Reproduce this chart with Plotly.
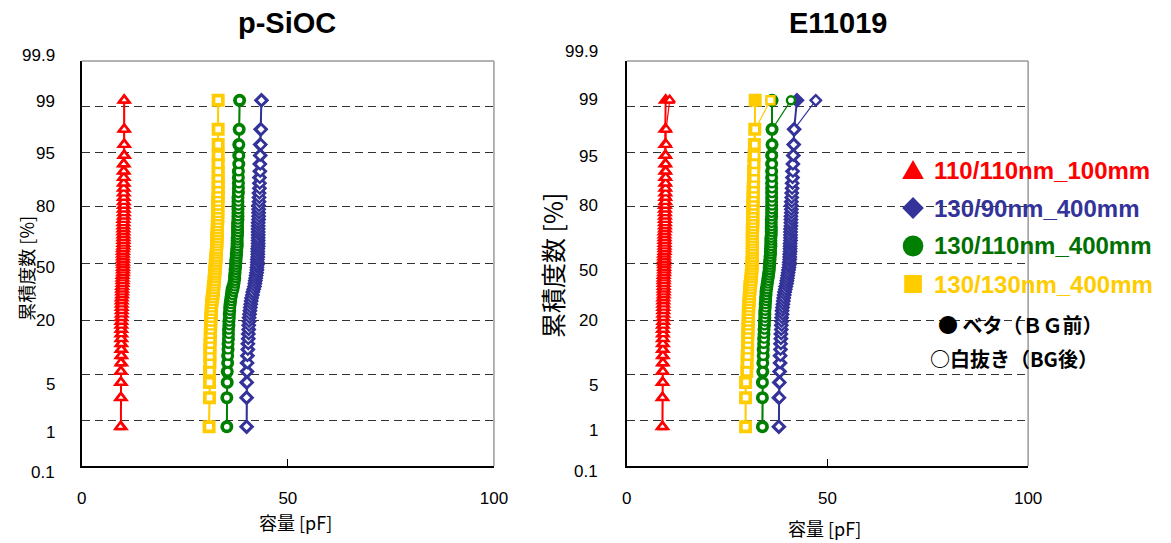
import statistics
import plotly.graph_objects as go

# ---------------- data (capacitance in pF, sorted per sample set) ----------------
L_red_A = [9.5, 9.5, 9.5, 9.5, 9.6, 9.6, 9.6, 9.6, 9.6, 9.6, 9.6, 9.6, 9.6, 9.6, 9.7, 9.7,
           9.7, 9.7, 9.7, 9.7, 9.8, 9.8, 9.8, 9.8, 9.9, 9.9, 9.9, 9.9, 10.0, 10.0, 10.0, 10.0,
           10.0, 10.0, 10.0, 10.0, 10.0, 10.0, 10.1, 10.1, 10.1, 10.1, 10.1, 10.1, 10.1, 10.1,
           10.1, 10.1, 10.2, 10.2, 10.2, 10.2, 10.2, 10.2, 10.2, 10.2, 10.2, 10.2, 10.2, 10.2, 10.3, 10.3, 10.3, 10.3]
L_red_B = [9.4, 9.5, 9.5, 9.5, 9.5, 9.6, 9.6, 9.6, 9.6, 9.6, 9.6, 9.6, 9.6, 9.7, 9.7, 9.7,
           9.7, 9.7, 9.7, 9.8, 9.8, 9.8, 9.8, 9.9, 9.9, 9.9, 9.9, 10.0, 10.0, 10.0, 10.0, 10.0,
           10.0, 10.0, 10.0, 10.0, 10.0, 10.1, 10.1, 10.1, 10.1, 10.1, 10.1, 10.1, 10.1, 10.1,
           10.1, 10.2, 10.2, 10.2, 10.2, 10.2, 10.2, 10.2, 10.2, 10.2, 10.2, 10.2, 10.2, 10.2, 10.3, 10.3, 10.3, 10.3]
L_yel_A = [30.9, 31.0, 31.0, 31.0, 31.1, 31.1, 31.1, 31.1, 31.2, 31.2, 31.2, 31.3, 31.3, 31.3, 31.4, 31.4,
           31.5, 31.5, 31.6, 31.7, 31.8, 31.9, 31.9, 32.0, 32.1, 32.1, 32.2, 32.2, 32.3, 32.3, 32.4, 32.4,
           32.5, 32.5, 32.6, 32.6, 32.7, 32.7, 32.7, 32.8, 32.8, 32.8, 32.8, 32.9, 32.9, 32.9, 32.9, 33.0,
           33.0, 33.0, 33.0, 33.0, 33.0, 33.1, 33.1, 33.1, 33.1, 33.1, 33.1, 33.1, 33.1, 33.1, 33.1, 33.1]
L_yel_B = [30.9, 31.0, 31.0, 31.1, 31.1, 31.1, 31.1, 31.2, 31.2, 31.2, 31.3, 31.3, 31.3, 31.4, 31.4, 31.5,
           31.5, 31.6, 31.7, 31.8, 31.9, 32.0, 32.1, 32.2, 32.2, 32.3, 32.4, 32.4, 32.5, 32.5, 32.6, 32.6,
           32.7, 32.7, 32.8, 32.8, 32.8, 32.9, 32.9, 32.9, 33.0, 33.0, 33.0, 33.0, 33.0, 33.0, 33.1, 33.1,
           33.1, 33.1, 33.1, 33.1, 33.1, 33.1, 33.1, 33.1, 33.1, 33.1, 33.1, 33.1, 33.1, 33.1, 33.1, 33.1]
L_grn_A = [35.2, 35.2, 35.3, 35.3, 35.4, 35.4, 35.5, 35.5, 35.6, 35.6, 35.6, 35.7, 35.7, 35.8, 35.8, 35.9,
           35.9, 36.0, 36.1, 36.2, 36.3, 36.4, 36.5, 36.7, 36.9, 37.0, 37.1, 37.1, 37.2, 37.2, 37.3, 37.3,
           37.4, 37.4, 37.5, 37.5, 37.6, 37.6, 37.7, 37.7, 37.7, 37.7, 37.8, 37.8, 37.8, 37.8, 37.8, 37.9,
           37.9, 37.9, 37.9, 37.9, 37.9, 37.9, 38.0, 38.0, 38.0, 38.0, 38.0, 38.1, 38.1, 38.1, 38.2, 38.3]
L_grn_B = [35.2, 35.2, 35.3, 35.4, 35.4, 35.5, 35.5, 35.6, 35.6, 35.7, 35.7, 35.8, 35.8, 35.9, 35.9, 36.0,
           36.1, 36.2, 36.3, 36.4, 36.6, 36.8, 37.0, 37.1, 37.2, 37.2, 37.3, 37.3, 37.4, 37.4, 37.5, 37.5,
           37.6, 37.6, 37.6, 37.7, 37.7, 37.7, 37.8, 37.8, 37.8, 37.8, 37.8, 37.9, 37.9, 37.9, 37.9, 37.9,
           37.9, 38.0, 38.0, 38.0, 38.0, 38.0, 38.0, 38.1, 38.1, 38.1, 38.1, 38.1, 38.2, 38.2, 38.2, 38.3]
L_blu_A = [40.0, 40.0, 40.0, 40.1, 40.1, 40.2, 40.3, 40.3, 40.4, 40.4, 40.5, 40.5, 40.6, 40.6, 40.7, 40.8,
           40.9, 41.0, 41.1, 41.2, 41.4, 41.5, 41.7, 41.9, 42.0, 42.1, 42.2, 42.3, 42.4, 42.5, 42.5, 42.6,
           42.6, 42.6, 42.7, 42.7, 42.7, 42.7, 42.8, 42.8, 42.8, 42.8, 42.8, 42.8, 42.8, 42.8, 42.8, 42.9,
           42.9, 42.9, 42.9, 42.9, 43.0, 43.0, 43.0, 43.1, 43.1, 43.1, 43.2, 43.2, 43.3, 43.3, 43.4, 43.6]
L_blu_B = [40.0, 40.0, 40.1, 40.1, 40.2, 40.2, 40.3, 40.4, 40.4, 40.5, 40.5, 40.6, 40.6, 40.7, 40.8, 40.9,
           41.0, 41.1, 41.2, 41.3, 41.5, 41.6, 41.8, 42.0, 42.1, 42.2, 42.3, 42.4, 42.5, 42.5, 42.6, 42.6,
           42.7, 42.7, 42.7, 42.7, 42.8, 42.8, 42.8, 42.8, 42.8, 42.8, 42.9, 42.9, 42.9, 42.9, 42.9, 42.9,
           43.0, 43.0, 43.0, 43.0, 43.1, 43.1, 43.1, 43.2, 43.2, 43.2, 43.3, 43.3, 43.3, 43.4, 43.5, 43.6]

R_red_A = [8.9, 8.9, 8.9, 8.9, 9.0, 9.0, 9.0, 9.0, 9.0, 9.0, 9.0, 9.0, 9.1, 9.1, 9.1, 9.1,
           9.1, 9.1, 9.1, 9.1, 9.2, 9.2, 9.2, 9.2, 9.2, 9.2, 9.2, 9.2, 9.3, 9.3, 9.3, 9.3,
           9.3, 9.3, 9.3, 9.3, 9.4, 9.4, 9.4, 9.4, 9.4, 9.4, 9.4, 9.4, 9.5, 9.5, 9.5, 9.5,
           9.5, 9.5, 9.5, 9.5, 9.6, 9.6, 9.6, 9.6, 9.6, 9.6, 9.6, 9.6, 9.6, 9.6, 9.6, 9.7]
R_red_B = [8.9, 8.9, 9.0, 9.0, 9.0, 9.0, 9.0, 9.0, 9.1, 9.1, 9.1, 9.1, 9.1, 9.1, 9.1, 9.2,
           9.2, 9.2, 9.2, 9.2, 9.2, 9.2, 9.3, 9.3, 9.3, 9.3, 9.3, 9.3, 9.3, 9.4, 9.4, 9.4,
           9.4, 9.4, 9.4, 9.4, 9.5, 9.5, 9.5, 9.5, 9.5, 9.5, 9.5, 9.5, 9.5, 9.6, 9.6, 9.6,
           9.6, 9.6, 9.6, 9.6, 9.6, 9.7, 9.7, 9.7, 9.7, 9.7, 9.7, 9.7, 9.7, 9.8, 9.8, 10.7]
R_yel_A = [29.6, 29.6, 29.6, 29.9, 30.0, 30.0, 30.1, 30.1, 30.1, 30.2, 30.2, 30.2, 30.3, 30.3, 30.3, 30.3,
           30.4, 30.4, 30.5, 30.5, 30.6, 30.6, 30.7, 30.7, 30.8, 30.9, 31.0, 31.0, 31.1, 31.1, 31.2, 31.2,
           31.2, 31.3, 31.3, 31.3, 31.3, 31.3, 31.3, 31.3, 31.3, 31.3, 31.3, 31.3, 31.3, 31.4, 31.4, 31.4,
           31.4, 31.4, 31.4, 31.4, 31.5, 31.5, 31.5, 31.5, 31.6, 31.6, 31.6, 31.7, 31.7, 31.8, 31.9, 32.0]
R_yel_B = [29.6, 29.6, 29.7, 29.9, 30.0, 30.1, 30.1, 30.2, 30.2, 30.2, 30.3, 30.3, 30.3, 30.4, 30.4, 30.4,
           30.5, 30.5, 30.6, 30.6, 30.7, 30.8, 30.9, 31.0, 31.0, 31.1, 31.1, 31.2, 31.2, 31.3, 31.3, 31.3,
           31.3, 31.3, 31.4, 31.4, 31.4, 31.4, 31.4, 31.4, 31.4, 31.4, 31.4, 31.5, 31.5, 31.5, 31.5, 31.5,
           31.5, 31.5, 31.6, 31.6, 31.6, 31.6, 31.7, 31.7, 31.7, 31.8, 31.8, 31.8, 31.9, 31.9, 32.0, 35.8]
R_grn_A = [33.8, 33.8, 33.8, 33.9, 33.9, 34.0, 34.0, 34.1, 34.1, 34.2, 34.2, 34.3, 34.3, 34.4, 34.4, 34.4,
           34.5, 34.5, 34.6, 34.6, 34.7, 34.7, 34.8, 34.9, 35.0, 35.1, 35.2, 35.3, 35.4, 35.5, 35.5, 35.6,
           35.6, 35.7, 35.7, 35.8, 35.8, 35.8, 35.9, 35.9, 35.9, 35.9, 36.0, 36.0, 36.0, 36.0, 36.0, 36.0,
           36.1, 36.1, 36.1, 36.1, 36.1, 36.1, 36.1, 36.1, 36.1, 36.1, 36.1, 36.1, 36.1, 36.2, 36.2, 36.2]
R_grn_B = [33.8, 33.8, 33.9, 33.9, 34.0, 34.0, 34.1, 34.1, 34.2, 34.2, 34.3, 34.3, 34.4, 34.4, 34.5, 34.5,
           34.6, 34.6, 34.7, 34.8, 34.8, 34.9, 35.0, 35.1, 35.2, 35.3, 35.4, 35.5, 35.6, 35.6, 35.7, 35.7,
           35.8, 35.8, 35.8, 35.9, 35.9, 35.9, 36.0, 36.0, 36.0, 36.0, 36.0, 36.1, 36.1, 36.1, 36.1, 36.1,
           36.1, 36.1, 36.2, 36.2, 36.2, 36.2, 36.2, 36.2, 36.2, 36.2, 36.2, 36.2, 36.2, 36.2, 36.2, 40.9]
R_blu_A = [37.9, 37.9, 38.0, 38.1, 38.2, 38.2, 38.3, 38.3, 38.4, 38.4, 38.5, 38.5, 38.6, 38.6, 38.7, 38.7,
           38.8, 38.9, 39.0, 39.1, 39.2, 39.3, 39.5, 39.6, 39.8, 39.9, 40.0, 40.1, 40.2, 40.3, 40.4, 40.5,
           40.5, 40.6, 40.6, 40.6, 40.7, 40.7, 40.7, 40.7, 40.8, 40.8, 40.8, 40.8, 40.8, 40.9, 40.9, 40.9,
           40.9, 41.0, 41.0, 41.0, 41.0, 41.1, 41.1, 41.2, 41.2, 41.3, 41.3, 41.4, 41.5, 41.6, 41.7, 42.4]
R_blu_B = [37.9, 38.0, 38.1, 38.1, 38.2, 38.3, 38.3, 38.4, 38.4, 38.5, 38.5, 38.6, 38.6, 38.7, 38.8, 38.8,
           38.9, 39.0, 39.1, 39.2, 39.4, 39.5, 39.6, 39.8, 39.9, 40.0, 40.1, 40.2, 40.3, 40.4, 40.5, 40.5,
           40.6, 40.6, 40.7, 40.7, 40.7, 40.7, 40.8, 40.8, 40.8, 40.8, 40.8, 40.9, 40.9, 40.9, 40.9, 41.0,
           41.0, 41.0, 41.0, 41.1, 41.1, 41.1, 41.2, 41.2, 41.3, 41.3, 41.4, 41.4, 41.5, 41.6, 41.7, 47.1]

SERIES_NAMES = ["110/110nm_100mm", "130/90nm_400mm", "130/110nm_400mm", "130/130nm_400mm"]
PANEL_TITLES = ["p-SiOC", "E11019"]
YTICK_PCT = [0.1, 1, 5, 20, 50, 80, 95, 99, 99.9]
YTICK_LABELS = ["0.1", "1", "5", "20", "50", "80", "95", "99", "99.9"]
GRID_PCT = [1, 5, 20, 50, 80, 95, 99]
XTICKS = [0, 50, 100]

# ---------------- styles ----------------
COLORS = ["#FF0000", "#333399", "#008000", "#FFCC00"]
LEG_COLORS = ["#FF0000", "#333399", "#007000", "#FFCC00"]
SYMBOLS = ["triangle-up", "diamond", "circle", "square"]
SIZE_A = [14, 12, 13, 13]
SIZE_B = [9, 8, 8, 8]
W, H = 1171, 543
ZMIN, ZMAX = -3.0, 3.0
nd = statistics.NormalDist()


def zpos(vals):
    n = len(vals)
    return [nd.inv_cdf((i + 0.5) / n) for i in range(n)]


def px(x):
    return x / W


def py(y):
    return 1 - y / H


panels = [
    ("x", "y", [(L_red_A, L_red_B), (L_blu_A, L_blu_B), (L_grn_A, L_grn_B), (L_yel_A, L_yel_B)]),
    ("x2", "y2", [(R_red_A, R_red_B), (R_blu_A, R_blu_B), (R_grn_A, R_grn_B), (R_yel_A, R_yel_B)]),
]

fig = go.Figure()
for xa, ya, sets in panels:
    for k, (a, b) in enumerate(sets):
        c = COLORS[k]
        a_s, b_s = sorted(a), sorted(b)
        fig.add_trace(go.Scatter(
            x=a_s, y=zpos(a_s), xaxis=xa, yaxis=ya, mode="lines+markers",
            name=SERIES_NAMES[k] + " BG前", line=dict(color=c, width=2),
            marker=dict(symbol=SYMBOLS[k], size=SIZE_A[k], color=c, line=dict(width=0))))
        fig.add_trace(go.Scatter(
            x=b_s, y=zpos(b_s), xaxis=xa, yaxis=ya, mode="lines+markers",
            name=SERIES_NAMES[k] + " BG後", line=dict(color=c, width=1.2),
            marker=dict(symbol=SYMBOLS[k], size=SIZE_B[k], color="white",
                        line=dict(color=c, width=2.4))))

grid_z = [nd.inv_cdf(p / 100) for p in GRID_PCT]
ydom = [py(466), py(61)]
tickfont = dict(family="Liberation Sans, Arial", size=17, color="black")
xcommon = dict(range=[0, 100], tickvals=XTICKS, ticks="inside", ticklen=7, tickwidth=1,
               tickcolor="black", showline=True, linecolor="black", linewidth=1.5,
               showgrid=False, zeroline=False, tickfont=tickfont, ticklabelstandoff=16)
ycommon = dict(domain=ydom, range=[ZMIN, ZMAX], tickvals=grid_z, showticklabels=False, ticks="",
               showgrid=True, gridcolor="#333333", gridwidth=1, griddash="8px,5px",
               showline=True, linecolor="black", linewidth=1.5, zeroline=False)

fig.update_layout(
    width=W, height=H, margin=dict(l=0, r=0, t=0, b=0),
    paper_bgcolor="white", plot_bgcolor="white", showlegend=False,
    xaxis=dict(domain=[px(78), px(497)], anchor="y", **xcommon),
    yaxis=dict(anchor="x", **ycommon),
    xaxis2=dict(domain=[px(632), px(1040)], anchor="y2", **xcommon),
    yaxis2=dict(anchor="x2", **ycommon),
)

shapes = []
for xr, yr in [("x domain", "y domain"), ("x2 domain", "y2 domain")]:
    shapes.append(dict(type="line", xref=xr, yref=yr, x0=0, x1=1, y0=1, y1=1,
                       line=dict(color="#9a9a9a", width=1.5)))
    shapes.append(dict(type="line", xref=xr, yref=yr, x0=1, x1=1, y0=0, y1=1,
                       line=dict(color="#9a9a9a", width=1.5)))

ann = []
# y tick labels (placed like the original text boxes), positioned on the probability scale
label_shift = {"y": [0, -12, -10, 0, -4, 0, -1, 5, -1],
               "y2": [1, -10, -11, 0, -7, 1, -4, 7, 3]}
label_x = {"y": 53, "y2": 605}
for yr in ["y", "y2"]:
    for p, lab, sh in zip(YTICK_PCT, YTICK_LABELS, label_shift[yr]):
        frac = (nd.inv_cdf(p / 100) - ZMIN) / (ZMAX - ZMIN)
        ann.append(dict(text=lab, xref="paper", yref=yr + " domain", x=px(label_x[yr]), y=frac,
                        xanchor="right", yanchor="middle", yshift=sh, showarrow=False,
                        font=tickfont))

# titles
title_font = dict(family="Liberation Sans, Arial", size=29, color="black")
ann.append(dict(text="<b>" + PANEL_TITLES[0] + "</b>", xref="paper", yref="paper", x=px(287),
                y=py(23), xanchor="center", yanchor="middle", showarrow=False, font=title_font))
ann.append(dict(text="<b>" + PANEL_TITLES[1] + "</b>", xref="paper", yref="paper", x=px(847),
                y=py(23), xanchor="center", yanchor="middle", showarrow=False, font=title_font))

jp = "Noto Sans CJK JP"
ann.append(dict(text="累積度数 [%]", xref="paper", yref="paper", x=px(21), y=py(268),
                textangle=-90, xanchor="center", yanchor="middle", showarrow=False,
                font=dict(family=jp, size=18, color="black")))
ann.append(dict(text="累積度数 [%]", xref="paper", yref="paper", x=px(556), y=py(265),
                textangle=-90, xanchor="center", yanchor="middle", showarrow=False,
                font=dict(family=jp, size=25, color="black")))
ann.append(dict(text="容量 [pF]", xref="paper", yref="paper", x=px(295), y=py(522),
                xanchor="center", yanchor="middle", showarrow=False,
                font=dict(family=jp, size=18, color="black")))
ann.append(dict(text="容量 [pF]", xref="paper", yref="paper", x=px(833), y=py(528),
                xanchor="center", yanchor="middle", showarrow=False,
                font=dict(family=jp, size=18, color="black")))

# legend (text + symbols)
rows = [170, 208, 246, 284]
for k, name in enumerate(SERIES_NAMES):
    ann.append(dict(text="<b>" + name + "</b>", xref="paper", yref="paper", x=px(942),
                    y=py(rows[k]), xanchor="left", yanchor="middle", showarrow=False,
                    font=dict(family="Liberation Sans, Arial", size=24, color=LEG_COLORS[k])))
cx = 923
r0 = rows[0]
shapes.append(dict(type="path", xref="paper", yref="paper",
                   path=f"M {px(cx-11)},{py(r0+9)} L {px(cx+11)},{py(r0+9)} L {px(cx)},{py(r0-10)} Z",
                   fillcolor=COLORS[0], line=dict(width=0)))
r1 = rows[1]
shapes.append(dict(type="path", xref="paper", yref="paper",
                   path=f"M {px(cx-11)},{py(r1)} L {px(cx)},{py(r1-11)} L {px(cx+11)},{py(r1)} L {px(cx)},{py(r1+11)} Z",
                   fillcolor=COLORS[1], line=dict(width=0)))
r2 = rows[2]
shapes.append(dict(type="circle", xref="paper", yref="paper", x0=px(cx-10.5), x1=px(cx+10.5),
                   y0=py(r2+10.5), y1=py(r2-10.5), fillcolor=COLORS[2], line=dict(width=0)))
r3 = rows[3]
shapes.append(dict(type="rect", xref="paper", yref="paper", x0=px(cx-9), x1=px(cx+9),
                   y0=py(r3+9), y1=py(r3-9), fillcolor=COLORS[3], line=dict(width=0)))

ann.append(dict(text="<b>● ベタ（ＢＧ前）</b>", xref="paper", yref="paper", x=px(946), y=py(324),
                xanchor="left", yanchor="middle", showarrow=False,
                font=dict(family=jp, size=20, color="black")))
ann.append(dict(text="<b>○白抜き（BG後）</b>", xref="paper", yref="paper", x=px(938), y=py(358),
                xanchor="left", yanchor="middle", showarrow=False,
                font=dict(family=jp, size=20, color="black")))

fig.update_layout(shapes=shapes, annotations=ann)
fig.write_html("out.html")
